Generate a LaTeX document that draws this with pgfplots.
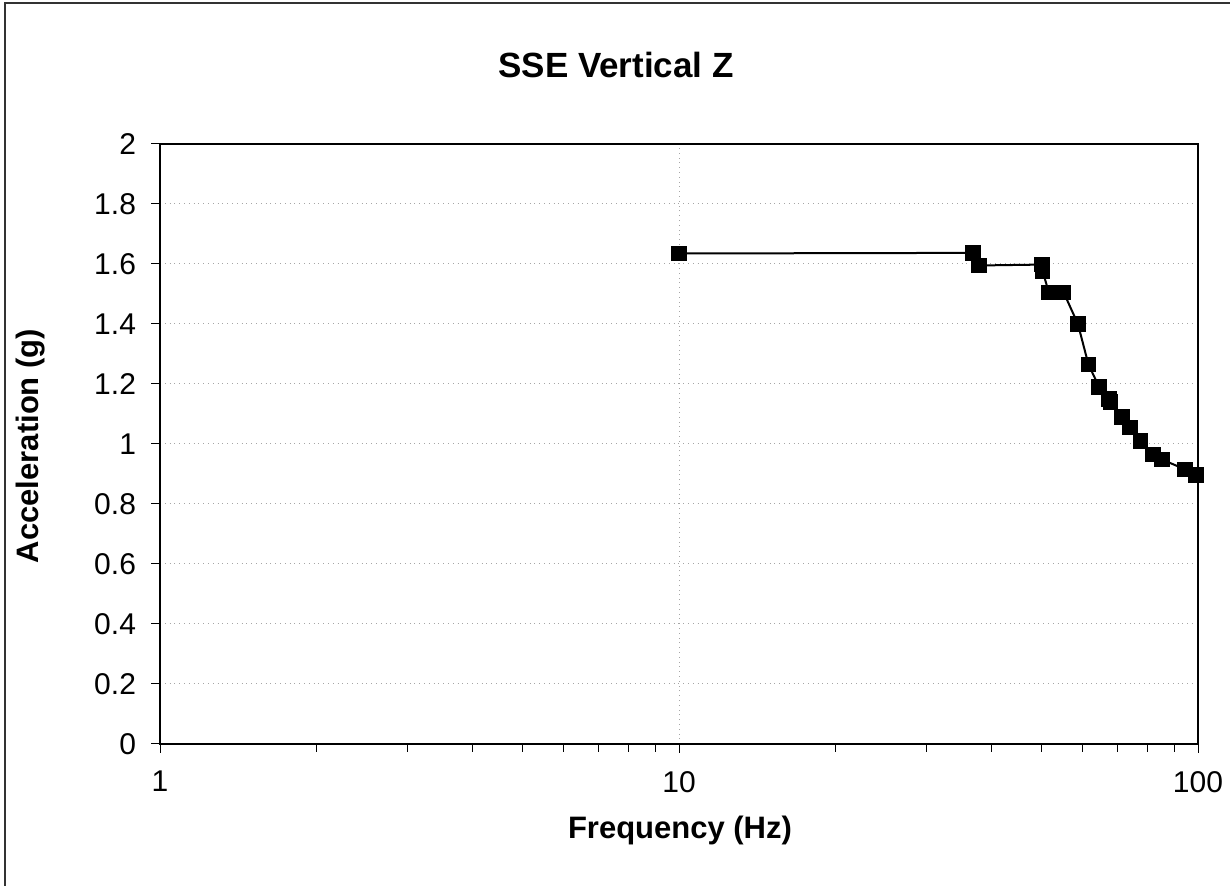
\documentclass[border=0pt]{standalone}
\usepackage{fontspec}
\setmainfont{Liberation Sans}
\usepackage{pgfplots}
\pgfplotsset{compat=1.18}
\begin{document}
\begin{tikzpicture}
\path[use as bounding box] (0,0) rectangle (615pt,443pt);
\draw[line width=0.6pt,black!80] (2.5pt,0) -- (2.5pt,441.5pt) -- (615pt,441.5pt);
\begin{axis}[
  at={(80pt,71pt)}, anchor=south west,
  scale only axis, width=519pt, height=300pt,
  xmode=log, xmin=1, xmax=100, ymin=0, ymax=2,
  xtick={1,10,100}, xticklabels={1,10,100},
  ytick={0,0.2,0.4,0.6,0.8,1,1.2,1.4,1.6,1.8,2},
  yticklabel style={/pgf/number format/fixed,/pgf/number format/precision=1,font=\fontsize{15}{17}\selectfont,xshift=-4pt},
  xticklabel style={font=\fontsize{15}{17}\selectfont,yshift=-5.5pt},
  /pgf/number format/assume math mode=true,
  tick align=outside, tick pos=left,
  major tick length=4.5pt, minor tick length=4pt,
  tick style={black,line width=0.5pt},
  axis line style={black,line width=0.8pt},
  xmajorgrids, ymajorgrids,
  major grid style={gray!70,dotted,line width=0.5pt},
  clip=false,
]
\addplot[black,line width=1pt,mark=square*,mark size=3.4pt,mark options={solid,fill=black}] coordinates {
(10,1.635) (36.9,1.637) (37.8,1.595) (50.0,1.598) (50.2,1.575) (51.6,1.505) (55.1,1.505)
(58.7,1.40) (61.5,1.265) (64.5,1.19) (67.3,1.15) (67.8,1.14) (71.3,1.09) (74.0,1.055)
(77.5,1.01) (81.8,0.965) (85.3,0.948) (94.5,0.915) (99.2,0.897)
};
\end{axis}
\node[font=\bfseries\fontsize{17.5}{20}\selectfont] at (308pt,410.5pt) {SSE Vertical Z};
\node[font=\bfseries\fontsize{15.5}{18}\selectfont] at (340pt,28pt) {Frequency (Hz)};
\node[font=\bfseries\fontsize{15.5}{18}\selectfont,rotate=90] at (15.5pt,220pt) {Acceleration (g)};
\end{tikzpicture}
\end{document}
